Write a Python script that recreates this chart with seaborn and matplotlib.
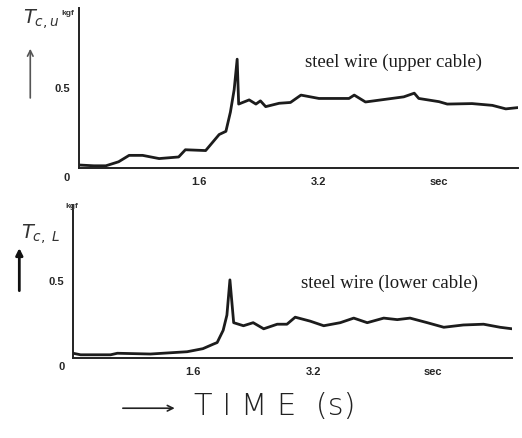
import matplotlib
matplotlib.use("Agg")
import matplotlib.pyplot as plt
import seaborn as sns
import pandas as pd

# upper cable tension (kgf) vs time (s)
t_upper = [0.0, 0.2, 0.36, 0.53, 0.67, 0.85, 1.07, 1.33, 1.42, 1.69, 1.78, 1.87, 1.96,
           2.02, 2.07, 2.11, 2.13, 2.27, 2.36, 2.42, 2.49, 2.67, 2.82, 2.96, 3.2, 3.6,
           3.67, 3.82, 4.09, 4.33, 4.47, 4.53, 4.8, 4.91, 5.24, 5.51, 5.69, 5.85]
tc_upper = [0.02, 0.015, 0.015, 0.04, 0.08, 0.08, 0.06, 0.07, 0.115, 0.11, 0.16, 0.21, 0.23,
            0.35, 0.49, 0.68, 0.40, 0.426, 0.40, 0.42, 0.384, 0.405, 0.41, 0.456, 0.435, 0.435,
            0.456, 0.413, 0.43, 0.445, 0.468, 0.435, 0.415, 0.40, 0.403, 0.392, 0.37, 0.378]

# lower cable tension (kgf) vs time (s)
t_lower = [0.0, 0.1, 0.5, 0.59, 1.03, 1.52, 1.73, 1.87, 1.92, 2.0, 2.05, 2.09, 2.14,
           2.27, 2.4, 2.54, 2.72, 2.85, 2.96, 3.16, 3.34, 3.56, 3.74, 3.92, 4.14, 4.32,
           4.49, 4.72, 4.94, 5.2, 5.47, 5.69, 5.85]
tc_lower = [0.03, 0.02, 0.02, 0.03, 0.025, 0.04, 0.06, 0.09, 0.10, 0.18, 0.28, 0.51, 0.23,
            0.21, 0.23, 0.19, 0.22, 0.22, 0.266, 0.24, 0.21, 0.23, 0.26, 0.23, 0.26, 0.25,
            0.26, 0.23, 0.20, 0.215, 0.22, 0.20, 0.19]

xticks = [1.6, 3.2, 4.8]
xticklabels = ["1.6", "3.2", "sec"]

sns.set_style("white")
plt.rcParams['font.family'] = ['Liberation Serif', 'DejaVu Sans']

fig = plt.figure(figsize=(5.22, 4.38), dpi=100)
ax_u = fig.add_axes([0.151, 0.616, 0.841, 0.366])
ax_l = fig.add_axes([0.140, 0.183, 0.841, 0.349])

panels = [
    (ax_u, t_upper, tc_upper, "steel wire (upper cable)", 0.515, 0.66),
    (ax_l, t_lower, tc_lower, "steel wire (lower cable)", 0.52, 0.49),
]

for ax, t, tc, label, lx, ly in panels:
    df = pd.DataFrame({"t": t, "tc": tc})
    sns.lineplot(data=df, x="t", y="tc", ax=ax, color="#1c1c1c", linewidth=2.0)
    ax.set_xlim(0, 5.85)
    ax.set_ylim(0, 1.0)
    ax.set_xticks(xticks)
    ax.set_xticklabels(xticklabels, fontsize=8, fontweight="bold", family="Liberation Sans")
    ax.set_yticks([0.5])
    ax.set_yticklabels(["0.5"], fontsize=8, fontweight="bold", family="Liberation Sans")
    ax.tick_params(axis="both", direction="inout", length=5, width=1.2, color="#222222", pad=4)
    ax.set_xlabel("")
    ax.set_ylabel("")
    sns.despine(ax=ax)
    for s in ["left", "bottom"]:
        ax.spines[s].set_color("#222222")
        ax.spines[s].set_linewidth(1.4)
    ax.text(-0.02, -0.03, "0", transform=ax.transAxes, fontsize=8, fontweight="bold",
            family="Liberation Sans", ha="right", va="top")
    ax.text(lx, ly, label, transform=ax.transAxes, fontsize=13.5, color="#1c1c1c",
            va="center")

# hand-written axis labels
fig.text(0.045, 0.945, r"$T_{c,u}$", fontsize=14, color="#333333", family="DejaVu Sans")
fig.text(0.118, 0.965, "kgf", fontsize=6, color="#333333", fontweight="bold", family="Liberation Sans")
ax_u.annotate("", xy=(0.058, 0.895), xytext=(0.058, 0.77), xycoords="figure fraction",
              textcoords="figure fraction", annotation_clip=False,
              arrowprops=dict(arrowstyle="->", color="#555555", lw=1.2))

fig.text(0.04, 0.455, r"$T_{c,\ L}$", fontsize=14, color="#333333", family="DejaVu Sans")
fig.text(0.125, 0.525, "kgf", fontsize=6, color="#333333", fontweight="bold", family="Liberation Sans")
ax_l.annotate("", xy=(0.037, 0.44), xytext=(0.037, 0.33), xycoords="figure fraction",
              textcoords="figure fraction", annotation_clip=False,
              arrowprops=dict(arrowstyle="-|>", color="#111111", lw=2))

ax_l.annotate("", xy=(0.34, 0.068), xytext=(0.23, 0.068), xycoords="figure fraction",
              textcoords="figure fraction", annotation_clip=False,
              arrowprops=dict(arrowstyle="->", color="#222222", lw=1.2))
fig.text(0.372, 0.073, "T I M E  (s)", fontsize=22, color="#222222", family="DejaVu Sans",
         fontweight="light", va="center")

fig.savefig("out.png", dpi=100)
